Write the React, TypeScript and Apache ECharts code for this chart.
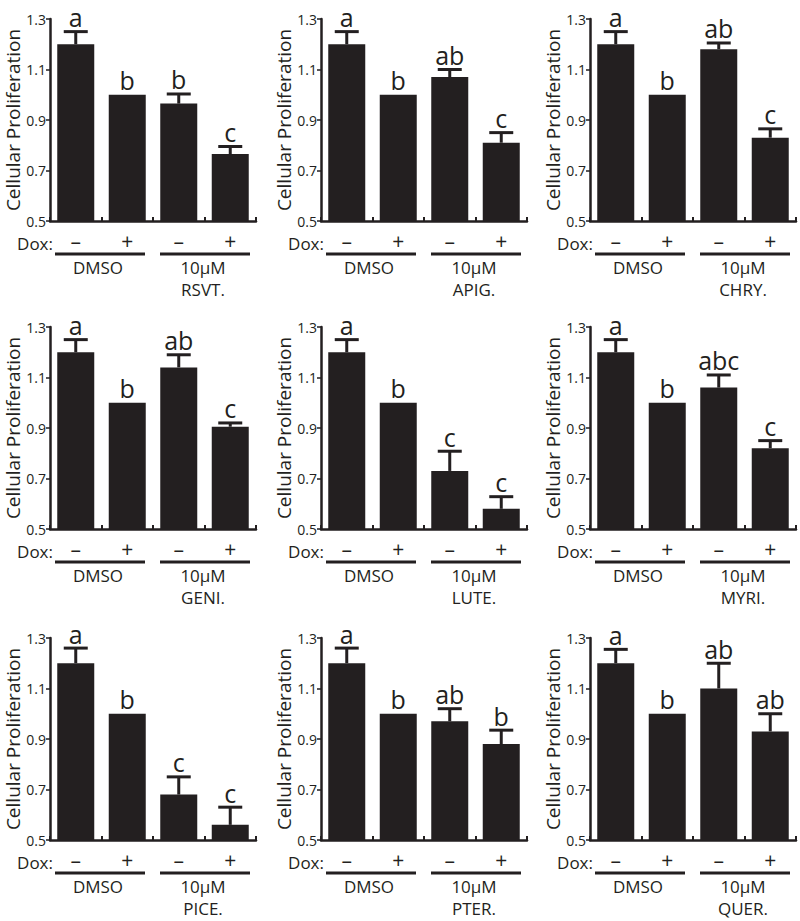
import React, { useEffect, useRef } from 'react';
import * as echarts from 'echarts';

const compounds = ['RSVT.', 'APIG.', 'CHRY.', 'GENI.', 'LUTE.', 'MYRI.', 'PICE.', 'PTER.', 'QUER.'];
const doxLabels = ['–', '+', '–', '+'];
const groupLabels = ['DMSO', '10μM'];
const yTicks = [0.5, 0.7, 0.9, 1.1, 1.3];

const barValues: number[][] = [
  [1.2, 1.0, 0.965, 0.765],
  [1.2, 1.0, 1.07, 0.81],
  [1.2, 1.0, 1.18, 0.83],
  [1.2, 1.0, 1.14, 0.905],
  [1.2, 1.0, 0.73, 0.58],
  [1.2, 1.0, 1.06, 0.82],
  [1.2, 1.0, 0.68, 0.56],
  [1.2, 1.0, 0.97, 0.88],
  [1.2, 1.0, 1.1, 0.93],
];
const errTops: (number | null)[][] = [
  [1.25, null, 1.003, 0.795],
  [1.25, null, 1.1, 0.85],
  [1.25, null, 1.205, 0.865],
  [1.25, null, 1.19, 0.92],
  [1.25, null, 0.808, 0.628],
  [1.25, null, 1.11, 0.85],
  [1.26, null, 0.75, 0.63],
  [1.26, null, 1.02, 0.935],
  [1.255, null, 1.2, 1.0],
];
const letters: string[][] = [
  ['a', 'b', 'b', 'c'],
  ['a', 'b', 'ab', 'c'],
  ['a', 'b', 'ab', 'c'],
  ['a', 'b', 'ab', 'c'],
  ['a', 'b', 'c', 'c'],
  ['a', 'b', 'abc', 'c'],
  ['a', 'b', 'c', 'c'],
  ['a', 'b', 'ab', 'b'],
  ['a', 'b', 'ab', 'ab'],
];

const INK = '#231f20';
const FONT = '"Open Sans", "Liberation Sans", sans-serif';
const colLeft = [50, 321, 590];
const rowTop = [19, 327, 638];
const GW = 206;
const GH = 202;

export default function App() {
  const ref = useRef<HTMLDivElement>(null);
  useEffect(() => {
    if (!ref.current) return;
    const chart = echarts.init(ref.current, null, { renderer: 'svg' });
    const grids: any[] = [];
    const xAxes: any[] = [];
    const yAxes: any[] = [];
    const series: any[] = [];
    const graphics: any[] = [];

    compounds.forEach((comp, i) => {
      const r = Math.floor(i / 3);
      const c = i % 3;
      const L = colLeft[c];
      const T = rowTop[r];
      grids.push({ left: L, top: T, width: GW, height: GH });
      xAxes.push({
        type: 'category',
        gridIndex: i,
        data: doxLabels,
        axisLine: { lineStyle: { color: INK, width: 2.5 } },
        axisTick: { show: true, inside: true, length: 4, lineStyle: { color: INK, width: 2 } },
        axisLabel: { color: INK, fontSize: 21, fontFamily: FONT, margin: 9 },
      });
      yAxes.push({
        type: 'value',
        gridIndex: i,
        min: yTicks[0],
        max: yTicks[yTicks.length - 1],
        interval: 0.2,
        splitLine: { show: false },
        axisLine: { show: true, lineStyle: { color: INK, width: 2.5 } },
        axisTick: { show: true, length: 4, lineStyle: { color: INK, width: 1.5 } },
        axisLabel: {
          color: INK,
          fontSize: 14,
          fontFamily: FONT,
          margin: 4,
          formatter: (v: number) => v.toFixed(1),
        },
        name: 'Cellular Proliferation',
        nameLocation: 'middle',
        nameGap: 23,
        nameTextStyle: { color: INK, fontSize: 19, lineHeight: 19, fontFamily: FONT },
      });
      series.push({
        type: 'bar',
        xAxisIndex: i,
        yAxisIndex: i,
        data: barValues[i],
        barWidth: 37,
        itemStyle: { color: INK },
        z: 2,
      });
      const errData: number[][] = [];
      errTops[i].forEach((t, k) => {
        if (t != null) errData.push([k, barValues[i][k], t]);
      });
      series.push({
        type: 'custom',
        xAxisIndex: i,
        yAxisIndex: i,
        data: errData,
        z: 3,
        renderItem: (_p: any, api: any) => {
          const x = api.value(0);
          const p0 = api.coord([x, api.value(1)]);
          const p1 = api.coord([x, api.value(2)]);
          return {
            type: 'group',
            children: [
              { type: 'line', shape: { x1: p0[0], y1: p0[1], x2: p1[0], y2: p1[1] }, style: { stroke: INK, lineWidth: 3 } },
              { type: 'line', shape: { x1: p1[0] - 12, y1: p1[1], x2: p1[0] + 12, y2: p1[1] }, style: { stroke: INK, lineWidth: 3 } },
            ],
          };
        },
      });
      series.push({
        type: 'scatter',
        xAxisIndex: i,
        yAxisIndex: i,
        symbolSize: 0,
        z: 4,
        itemStyle: { opacity: 1 },
        data: barValues[i].map((v, k) => ({
          value: [k, errTops[i][k] != null ? (errTops[i][k] as number) : v],
          label: {
            show: true,
            position: 'top',
            distance: 2,
            formatter: letters[i][k],
            color: INK,
            opacity: 1,
            fontSize: 25,
            fontFamily: FONT,
          },
        })),
      });
      const B = T + GH;
      const txt = (x: number, y: number, text: string, align: string) => ({
        type: 'text',
        x,
        y,
        style: { text, fill: INK, font: `17px ${FONT}`, lineHeight: 17, align, verticalAlign: 'middle' },
      });
      graphics.push(
        txt(L + 3, B + 22, 'Dox:', 'right'),
        { type: 'line', shape: { x1: L + 5, y1: B + 33, x2: L + 95, y2: B + 33 }, style: { stroke: INK, lineWidth: 3 } },
        { type: 'line', shape: { x1: L + 110, y1: B + 33, x2: L + 200, y2: B + 33 }, style: { stroke: INK, lineWidth: 3 } },
        txt(L + 48, B + 46, groupLabels[0], 'center'),
        txt(L + 153, B + 46, groupLabels[1], 'center'),
        txt(L + 153, B + 68, comp, 'center'),
      );
    });

    chart.setOption({
      animation: false,
      backgroundColor: '#ffffff',
      grid: grids,
      xAxis: xAxes,
      yAxis: yAxes,
      series,
      graphic: graphics,
    });
    return () => chart.dispose();
  }, []);
  return <div ref={ref} style={{ position: 'fixed', left: 0, top: 0, width: 800, height: 921 }} />;
}
